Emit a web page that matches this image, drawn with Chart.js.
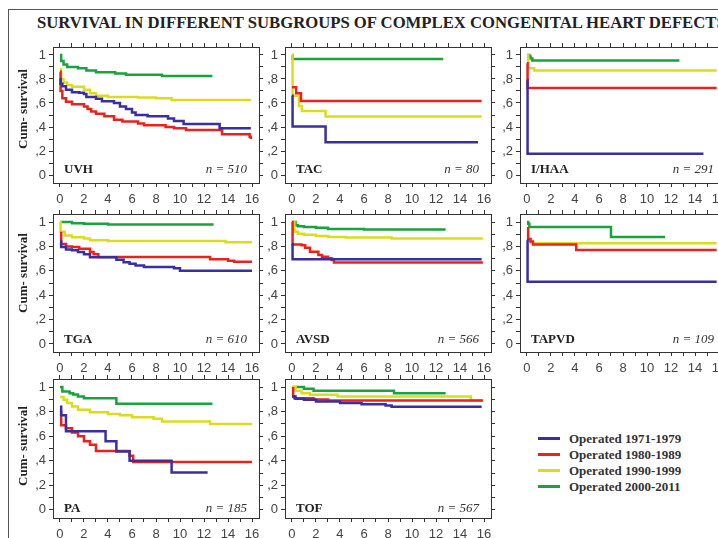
<!DOCTYPE html>
<html>
<head>
<meta charset="utf-8">
<script src="https://cdn.jsdelivr.net/npm/chart.js@4.4.1/dist/chart.umd.min.js"></script>
<style>
  html, body { margin: 0; padding: 0; background: #fff; }
  body { width: 718px; height: 538px; overflow: hidden; position: relative; }
  canvas { position: absolute; }
  #frame { position: absolute; left: 8px; top: 9px; width: 800px; height: 600px;
           border-left: 1.5px solid #555; border-top: 1.5px solid #555; }
  #title { position: absolute; left: 37px; top: 15px; white-space: nowrap;
           font: bold 16.7px/16.7px "Liberation Serif", serif; color: #222; }
  .lbl { position: absolute; white-space: nowrap; font: bold 13px/13px "Liberation Serif", serif; color: #222; z-index: 2; }
  .num { position: absolute; white-space: nowrap; font: italic 13px/13px "Liberation Serif", serif; color: #333;
         text-align: right; width: 100px; z-index: 2; }
  .ytitle { position: absolute; white-space: nowrap; font: bold 13px/13px "Liberation Serif", serif; color: #222;
            transform: translate(-50%, -50%) rotate(-90deg); }
  .leg { position: absolute; white-space: nowrap; font: bold 13px/13px "Liberation Serif", serif; color: #333; }
  .legline { position: absolute; width: 22px; height: 3px; }
</style>
</head>
<body>
<div id="frame"></div>
<div id="title">SURVIVAL IN DIFFERENT SUBGROUPS OF COMPLEX CONGENITAL HEART DEFECTS</div>
<script>
const periods = ['Operated 1971-1979', 'Operated 1980-1989', 'Operated 1990-1999', 'Operated 2000-2011'];
const colors = ['#3a2fa0', '#e8231e', '#dcdc1e', '#1aa23c'];

const xTicks = [0, 1, 2, 3, 4, 5, 6, 7, 8, 9, 10, 11, 12, 13, 14, 15, 16];
const yTicks = [0, 0.1, 0.2, 0.3, 0.4, 0.5, 0.6, 0.7, 0.8, 0.9, 1];
const yLabels = ['0', '', ',2', '', ',4', '', ',6', '', ',8', '', '1'];

// [years, cumulative survival] at each step
const uvhBlue = [[0,0.80],[0.05,0.76],[0.2,0.74],[0.5,0.71],[1,0.69],[1.6,0.685],[2,0.675],[2.2,0.65],[3,0.635],[3.5,0.615],[4.5,0.6],[5,0.57],[5.5,0.55],[6,0.52],[6.3,0.5],[7.3,0.49],[9,0.47],[9.5,0.45],[10.3,0.425],[13.3,0.39],[15.9,0.39]];
const uvhRed = [[0,0.86],[0.05,0.70],[0.2,0.64],[0.5,0.61],[1,0.59],[2,0.57],[2.3,0.55],[2.6,0.53],[3,0.51],[3.7,0.49],[4.5,0.46],[5.2,0.445],[6.5,0.43],[7,0.415],[8.8,0.40],[9.5,0.39],[10.5,0.375],[13.5,0.34],[15.8,0.32],[15.9,0.30]];
const uvhYellow = [[0,0.88],[0.1,0.80],[0.3,0.77],[0.6,0.75],[1,0.735],[2,0.71],[2.5,0.68],[3,0.66],[4,0.65],[6.5,0.645],[8,0.64],[9.3,0.625],[15.9,0.625]];
const uvhGreen = [[0,1],[0.1,0.95],[0.3,0.92],[0.6,0.90],[1.5,0.89],[2.2,0.87],[3,0.855],[4.6,0.845],[5.5,0.835],[8.5,0.825],[12.7,0.825]];

const tacBlue = [[0,0.66],[0.05,0.405],[2.8,0.274],[15.5,0.274]];
const tacRed = [[0,0.73],[0.35,0.68],[0.75,0.617],[15.8,0.617]];
const tacYellow = [[0,1],[0.05,0.66],[0.58,0.575],[0.82,0.534],[2.8,0.488],[15.8,0.488]];
const tacGreen = [[0,1],[0.05,0.967],[12.6,0.967]];

const ihaaBlue = [[0,0.79],[0.05,0.177],[14.7,0.177]];
const ihaaRed = [[0,0.93],[0.05,0.724],[15.8,0.724]];
const ihaaYellow = [[0,1],[0.1,0.89],[0.6,0.87],[15.8,0.87]];
const ihaaGreen = [[0,1],[0.2,0.986],[0.3,0.97],[0.45,0.953],[12.7,0.953]];

const tgaBlue = [[0,0.84],[0.1,0.795],[0.5,0.775],[1,0.768],[1.5,0.755],[2,0.736],[2.5,0.712],[4.7,0.69],[5.3,0.67],[5.8,0.657],[6.3,0.643],[7,0.632],[9.5,0.62],[10,0.60],[16,0.60]];
const tgaRed = [[0,0.91],[0.1,0.82],[0.5,0.80],[1,0.795],[1.6,0.78],[2.5,0.755],[2.8,0.735],[3.2,0.713],[12.5,0.695],[14,0.683],[14.5,0.675],[16,0.675]];
const tgaYellow = [[0,1],[0.05,0.92],[0.4,0.89],[1,0.875],[2,0.866],[2.5,0.85],[4,0.845],[13.8,0.834],[16,0.834]];
const tgaGreen = [[0,1],[1,0.99],[2,0.986],[4,0.98],[12.8,0.98]];

const avsdBlue = [[0,0.82],[0.05,0.695],[15.8,0.695]];
const avsdRed = [[0,1],[0.05,0.815],[0.8,0.81],[1.1,0.79],[1.5,0.757],[2.2,0.73],[2.5,0.716],[3,0.703],[3.3,0.689],[3.5,0.668],[15.9,0.668]];
const avsdYellow = [[0,1],[0.2,0.92],[0.5,0.905],[1,0.895],[2,0.886],[3,0.878],[4.5,0.873],[8.3,0.865],[15.9,0.865]];
const avsdGreen = [[0,1],[0.3,0.973],[0.5,0.965],[1,0.96],[2,0.954],[3,0.943],[6,0.938],[12.8,0.938]];

const tapvdBlue = [[0,0.85],[0.05,0.51],[15.8,0.51]];
const tapvdRed = [[0,0.95],[0.1,0.86],[0.3,0.84],[0.5,0.816],[4.1,0.77],[15.8,0.77]];
const tapvdYellow = [[0,0.9],[0.1,0.85],[0.3,0.826],[15.8,0.826]];
const tapvdGreen = [[0,1],[0.1,0.986],[0.2,0.96],[7,0.878],[11.5,0.878]];

const paBlue = [[0,0.84],[0.1,0.77],[0.5,0.64],[3.8,0.56],[4.7,0.475],[5.8,0.40],[9.3,0.305],[12.3,0.305]];
const paRed = [[0,0.80],[0.1,0.69],[0.5,0.665],[1,0.63],[1.5,0.60],[2,0.56],[2.5,0.53],[3,0.48],[5.8,0.44],[6.1,0.39],[16,0.39]];
const paYellow = [[0,0.92],[0.3,0.897],[0.6,0.87],[1,0.842],[1.5,0.815],[2.5,0.796],[4,0.78],[5,0.77],[6,0.755],[7.8,0.742],[8.5,0.72],[12.5,0.70],[16,0.70]];
const paGreen = [[0,1],[0.2,0.965],[0.8,0.95],[1.1,0.94],[1.5,0.924],[2,0.91],[4.7,0.864],[12.7,0.864]];

const tofBlue = [[0,0.924],[0.3,0.905],[1,0.897],[2,0.883],[4,0.87],[5.8,0.86],[7.8,0.85],[8.3,0.84],[15.8,0.84]];
const tofRed = [[0,0.99],[0.1,0.924],[0.2,0.91],[1.8,0.90],[3,0.89],[15.9,0.89]];
const tofYellow = [[0,1],[0.3,0.97],[0.8,0.95],[1.5,0.937],[3.8,0.924],[14.9,0.89],[15.9,0.89]];
const tofGreen = [[0,1],[1,0.986],[1.8,0.97],[8.5,0.95],[12.8,0.95]];

const groups = ['UVH', 'TAC', 'I/HAA', 'TGA', 'AVSD', 'TAPVD', 'PA', 'TOF'];
const counts = [510, 80, 291, 610, 566, 109, 185, 567];
const curves = [
  [uvhBlue, uvhRed, uvhYellow, uvhGreen],
  [tacBlue, tacRed, tacYellow, tacGreen],
  [ihaaBlue, ihaaRed, ihaaYellow, ihaaGreen],
  [tgaBlue, tgaRed, tgaYellow, tgaGreen],
  [avsdBlue, avsdRed, avsdYellow, avsdGreen],
  [tapvdBlue, tapvdRed, tapvdYellow, tapvdGreen],
  [paBlue, paRed, paYellow, paGreen],
  [tofBlue, tofRed, tofYellow, tofGreen]
];

// panel layout (pixels)
const colLeft = [53, 285, 520];
const rowTop = [47, 214, 379];
const rowHeight = [136, 138, 139];
const boxW = 206;
const AX_L = 48, AX_R = 6, AX_T = 5, AX_B = 26;
const labelLift = [15, 14, 11];
const yTitleY = [109, 273, 446];

const tickFont = { family: 'Liberation Sans', size: 13 };

function xAxis(position, showLabels) {
  return {
    type: 'linear', position, min: -0.58, max: 16.58,
    afterBuildTicks: s => { s.ticks = xTicks.map(v => ({ value: v })); },
    afterFit: s => { s.height = showLabels ? AX_B : AX_T; s.paddingLeft = 0; s.paddingRight = 0; },
    grid: { drawOnChartArea: false, tickLength: 4, color: '#333' },
    border: { display: true, color: '#333', width: 1 },
    ticks: {
      display: showLabels, autoSkip: false, maxRotation: 0, padding: 5, color: '#444', font: tickFont,
      callback: v => (v % 2 === 0 ? String(v) : '')
    }
  };
}

function yAxis(position, showLabels) {
  return {
    type: 'linear', position, min: -0.066, max: 1.066,
    afterBuildTicks: s => { s.ticks = yTicks.map(v => ({ value: v })); },
    afterFit: s => { s.width = showLabels ? AX_L : AX_R; s.paddingTop = 0; s.paddingBottom = 0; },
    grid: { drawOnChartArea: false, tickLength: 4, color: '#333' },
    border: { display: true, color: '#333', width: 1 },
    ticks: {
      display: showLabels, autoSkip: false, padding: 3, color: '#444', font: tickFont,
      callback: (v, i) => yLabels[i]
    }
  };
}

function addDiv(cls, text, css) {
  const d = document.createElement('div');
  d.className = cls;
  d.textContent = text;
  Object.assign(d.style, css);
  document.body.appendChild(d);
  return d;
}

groups.forEach((name, i) => {
  const col = i % 3, row = Math.floor(i / 3);
  const L = colLeft[col], T = rowTop[row], H = rowHeight[row];
  const canvas = document.createElement('canvas');
  canvas.width = AX_L + boxW + AX_R;
  canvas.height = AX_T + H + AX_B;
  canvas.style.left = (L - AX_L) + 'px';
  canvas.style.top = (T - AX_T) + 'px';
  document.body.appendChild(canvas);

  new Chart(canvas, {
    type: 'line',
    data: {
      datasets: curves[i].map((c, k) => ({
        label: periods[k],
        data: c.map(([x, y]) => ({ x, y })),
        borderColor: colors[k],
        borderWidth: 2.5,
        pointRadius: 0,
        stepped: true,
        fill: false
      }))
    },
    options: {
      responsive: false,
      animation: false,
      events: [],
      layout: { padding: 0 },
      plugins: { legend: { display: false }, tooltip: { enabled: false } },
      scales: {
        x: xAxis('bottom', true),
        x2: xAxis('top', false),
        y: yAxis('left', true),
        y2: yAxis('right', false)
      }
    }
  });

  const cy = T + H - labelLift[row];
  addDiv('lbl', name, { left: (L + 11) + 'px', top: (cy - 6.5) + 'px' });
  addDiv('num', 'n = ' + counts[i], { left: (L + boxW - 12 - 100) + 'px', top: (cy - 6.5) + 'px' });
});

yTitleY.forEach(y => addDiv('ytitle', 'Cum- survival', { left: '22px', top: y + 'px' }));

periods.forEach((p, k) => {
  const cy = 438 + k * 16.3;
  addDiv('legline', '', { left: '538px', top: (cy - 1.5) + 'px', background: colors[k] });
  addDiv('leg', p, { left: '569px', top: (cy - 6.5) + 'px' });
});
</script>
</body>
</html>
